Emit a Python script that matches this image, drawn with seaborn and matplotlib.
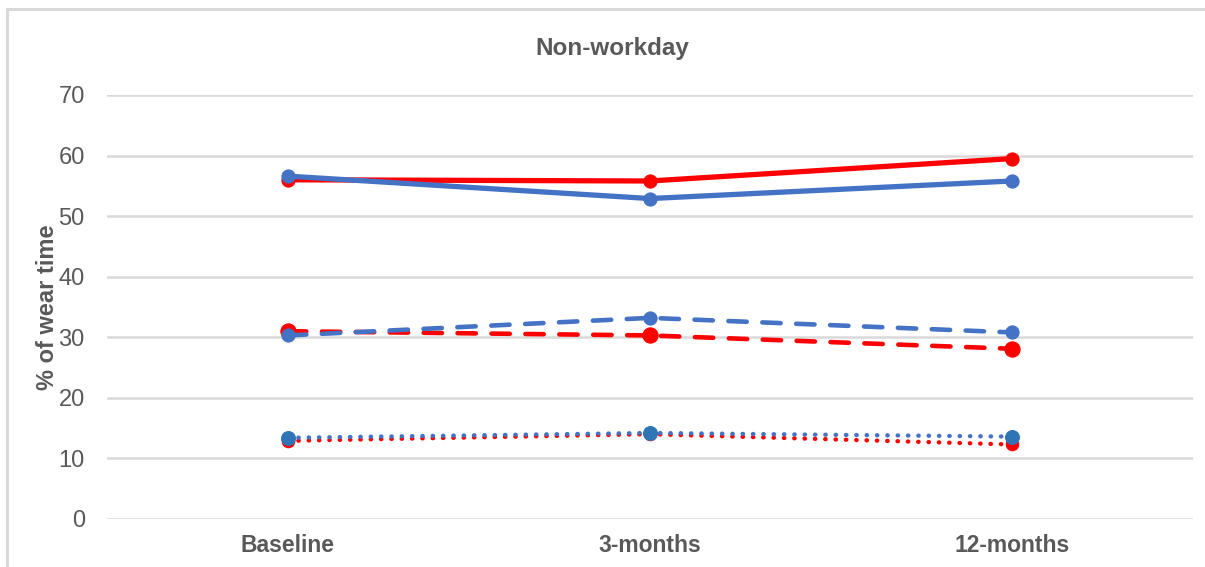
import matplotlib
matplotlib.use("Agg")
import matplotlib.pyplot as plt
from matplotlib.lines import Line2D
import seaborn as sns
import pandas as pd

# Time points and % of wear time for each group / behaviour
timepoints = ["Baseline", "3-months", "12-months"]

red_sitting = [56.0, 55.8, 59.5]
blue_sitting = [56.6, 52.9, 55.8]
red_standing = [31.0, 30.3, 28.1]
blue_standing = [30.3, 33.2, 30.8]
red_stepping = [12.9, 14.0, 12.3]
blue_stepping = [13.4, 14.2, 13.6]

y_ticks = [0, 10, 20, 30, 40, 50, 60, 70]

RED = "#FF0000"
BLUE = "#4472C4"
BLUE_DOT = "#2E75B6"
GRID = "#D9D9D9"
TEXT = "#595959"

sns.set_theme(style="white")
plt.rcParams["font.family"] = ["Liberation Sans Narrow", "Liberation Sans", "DejaVu Sans"]

fig = plt.figure(figsize=(12.05, 5.67), dpi=100)
ax = fig.add_axes([0.0888, 0.0847, 0.9012, 0.7478])

x = list(range(len(timepoints)))

series = [
    # (values, colour, marker colour, linestyle, linewidth, markersize)
    (red_sitting, RED, RED, "-", 3.8, 9.5),
    (red_standing, RED, RED, (0, (4.0, 3.4)), 3.3, 11),
    (red_stepping, RED, RED, (0, (0.1, 2.3)), 3.1, 9),
    (blue_sitting, BLUE, BLUE, "-", 3.8, 9.5),
    (blue_standing, BLUE, BLUE, (0, (4.0, 3.4)), 3.3, 9.5),
    (blue_stepping, BLUE, BLUE_DOT, (0, (0.1, 2.3)), 3.1, 10),
]

for vals, col, mcol, ls, lw, ms in series:
    df = pd.DataFrame({"x": x, "y": vals})
    sns.lineplot(
        data=df, x="x", y="y", ax=ax, color=col, linewidth=lw,
        linestyle=ls, marker="o", markersize=ms, markerfacecolor=mcol,
        markeredgecolor=mcol, dash_capstyle="round",
        solid_capstyle="round", estimator=None, sort=False,
    )

ax.set_xlim(-0.5, 2.5)
ax.set_ylim(0, 70)
ax.set_yticks(y_ticks)
ax.set_yticklabels([str(v) for v in y_ticks], fontsize=17, color=TEXT)
ax.set_xticks(x)
ax.set_xticklabels(timepoints, fontsize=16.5, color=TEXT, fontweight="bold")
ax.tick_params(axis="both", length=0)
ax.tick_params(axis="y", pad=16)
ax.tick_params(axis="x", pad=11)

ax.grid(axis="y", color=GRID, linewidth=1.8)
ax.grid(axis="x", visible=False)
ax.set_axisbelow(True)
for s in ax.spines.values():
    s.set_visible(False)

ax.set_xlabel("")
ax.set_ylabel("% of wear time", fontsize=17, color=TEXT, fontweight="bold")
ax.yaxis.set_label_coords(-0.044, 0.5)

fig.text(612 / 1205, 1 - 48 / 567, "Non-workday", fontsize=17.5, color=TEXT,
         fontweight="bold", ha="center", va="center")

# Chart-area frame (top and left edges)
fig.add_artist(Line2D([7 / 1205, 7 / 1205], [0, 1 - 9 / 567], transform=fig.transFigure,
                      color=GRID, linewidth=2.2))
fig.add_artist(Line2D([7 / 1205, 1], [1 - 9 / 567, 1 - 9 / 567], transform=fig.transFigure,
                      color=GRID, linewidth=2.2))

fig.savefig("out.png", dpi=100)
